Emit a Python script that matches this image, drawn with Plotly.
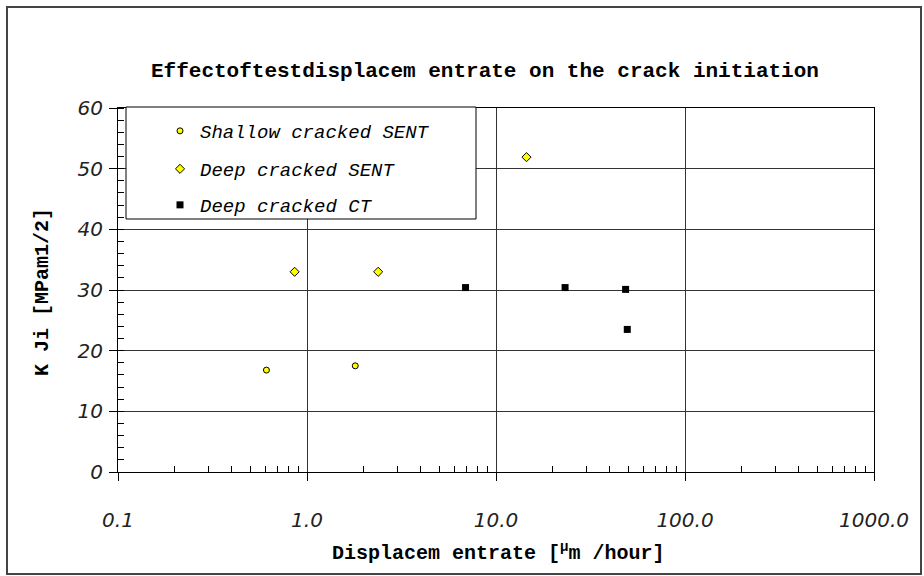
import plotly.graph_objects as go

# ---- data ----
shallow_x = [0.61, 1.80]
shallow_y = [16.8, 17.5]
deep_sent_x = [0.86, 2.38, 14.5]
deep_sent_y = [33.0, 33.0, 51.9]
ct_x = [6.9, 23.2, 48.5, 49.5]
ct_y = [30.4, 30.4, 30.1, 23.5]

x_tickvals = [0.1, 1, 10, 100, 1000]
x_ticktext = ["0.1", "1.0", "10.0", "100.0", "1000.0"]
y_tickvals = [0, 10, 20, 30, 40, 50, 60]
y_ticktext = ["0", "10", "20", "30", "40", "50", "60"]

title_text = "Effectoftestdisplacem entrate on the crack initiation"
x_title = "Displacem entrate [<sup>μ</sup>m /hour]"
y_title = "K Ji [MPam1/2]"
names = ["Shallow cracked SENT", "Deep cracked SENT", "Deep cracked CT"]

W, H = 924, 576
L, R, T, B = 118, 874, 108, 472
pw, ph = R - L, B - T


def px(x):
    return (x - L) / pw


def py(y):
    return (B - y) / ph


mono_b = dict(family="Liberation Mono", size=20, color="black", weight="bold")
tickfont = dict(family="DejaVu Sans", size=20, color="#222", style="italic")
legfont = dict(family="Liberation Mono", size=19, color="black", style="italic")

fig = go.Figure()
fig.add_trace(go.Scatter(x=shallow_x, y=shallow_y, mode="markers", name=names[0],
                         marker=dict(symbol="circle", size=6, color="#FFFF00",
                                     line=dict(color="black", width=1)),
                         legend="legend"))
fig.add_trace(go.Scatter(x=deep_sent_x, y=deep_sent_y, mode="markers", name=names[1],
                         marker=dict(symbol="diamond", size=7, color="#FFFF00",
                                     line=dict(color="black", width=1)),
                         legend="legend2"))
fig.add_trace(go.Scatter(x=ct_x, y=ct_y, mode="markers", name=names[2],
                         marker=dict(symbol="square", size=7, color="black",
                                     line=dict(color="black", width=0)),
                         legend="legend3"))

minor_x = [m * 10 ** e for e in range(-1, 3) for m in range(2, 10)]

fig.update_xaxes(type="log", range=[-1, 3], tickmode="array",
                 tickvals=x_tickvals, ticktext=x_ticktext,
                 showgrid=True, gridcolor="#333", gridwidth=1,
                 showline=True, linecolor="black", linewidth=1, mirror=True,
                 ticks="outside", ticklen=8, tickcolor="black",
                 ticklabelstandoff=22, tickfont=tickfont, zeroline=False,
                 minor=dict(tickmode="array", tickvals=minor_x, ticks="inside",
                            ticklen=6, tickcolor="black", showgrid=False))
fig.update_yaxes(range=[0, 60], tickmode="array", tickvals=y_tickvals,
                 ticktext=y_ticktext,
                 showgrid=True, gridcolor="#333", gridwidth=1,
                 showline=True, linecolor="black", linewidth=1, mirror=True,
                 ticks="outside", ticklen=8, tickcolor="black",
                 ticklabelstandoff=2, tickfont=tickfont, zeroline=False,
                 minor=dict(dtick=2, ticks="inside", ticklen=6,
                            tickcolor="black", showgrid=False))

leg_common = dict(xanchor="left", yanchor="middle", bgcolor="rgba(0,0,0,0)",
                  borderwidth=0, font=legfont, itemsizing="trace")
legx = px(160)
fig.update_layout(
    width=W, height=H,
    margin=dict(l=L, r=W - R, t=T, b=H - B),
    paper_bgcolor="white", plot_bgcolor="white",
    showlegend=True,
    legend=dict(x=legx, y=py(131), **leg_common),
    legend2=dict(x=legx, y=py(169), **leg_common),
    legend3=dict(x=legx, y=py(205), **leg_common),
)

shapes = [
    # outer chart frame
    dict(type="rect", xref="paper", yref="paper",
         x0=px(7), x1=px(921), y0=py(574), y1=py(7),
         line=dict(color="#444", width=2), fillcolor="rgba(0,0,0,0)", layer="below"),
    # legend box
    dict(type="rect", xref="paper", yref="paper",
         x0=px(126), x1=px(476), y0=py(219), y1=py(107),
         line=dict(color="black", width=1), fillcolor="white", layer="above"),
]
fig.update_layout(shapes=shapes)

fig.add_annotation(text=title_text, xref="paper", yref="paper",
                   x=px(149), y=py(72), xanchor="left", yanchor="middle",
                   showarrow=False, font=dict(mono_b, size=21))
fig.add_annotation(text=x_title, xref="paper", yref="paper",
                   x=px(498), y=py(552), xanchor="center", yanchor="middle",
                   showarrow=False, font=mono_b)
fig.add_annotation(text=y_title, xref="paper", yref="paper",
                   x=px(42), y=py(292), xanchor="center", yanchor="middle",
                   textangle=-90, showarrow=False, font=mono_b)

fig.write_html("out.html")
